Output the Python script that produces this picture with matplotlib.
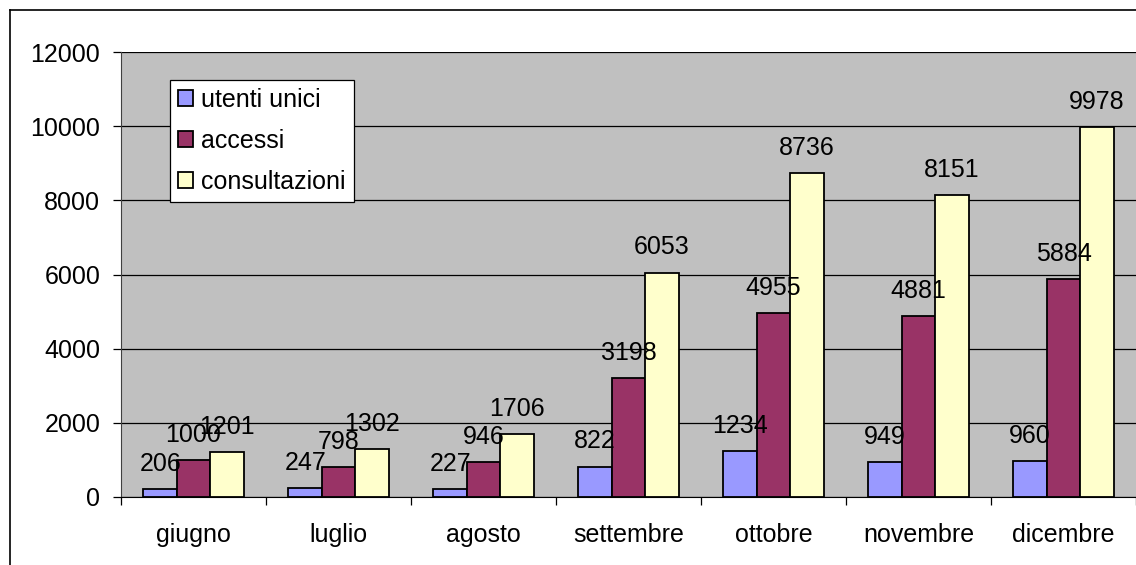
import matplotlib.pyplot as plt
import numpy as np
from matplotlib.lines import Line2D

plt.rcParams['font.family'] = ['Liberation Sans', 'DejaVu Sans']

mesi = ['giugno', 'luglio', 'agosto', 'settembre', 'ottobre', 'novembre', 'dicembre']
utenti_unici = [206, 247, 227, 822, 1234, 949, 960]
accessi = [1000, 798, 946, 3198, 4955, 4881, 5884]
consultazioni = [1201, 1302, 1706, 6053, 8736, 8151, 9978]

serie = [('utenti unici', utenti_unici, '#9999FF'),
         ('accessi', accessi, '#993366'),
         ('consultazioni', consultazioni, '#FFFFCC')]

fs = 18

fig = plt.figure(figsize=(11.36, 5.65), dpi=100)
ax = fig.add_axes([121 / 1136, 68 / 565, 1 - 121 / 1136, 445 / 565])
ax.set_facecolor('#C0C0C0')

x = np.arange(len(mesi))
w = 0.23
for i, (nome, vals, col) in enumerate(serie):
    pos = x + (i - 1) * w
    ax.bar(pos, vals, w, color=col, edgecolor='black', linewidth=1.3,
           label=nome, zorder=3)
    for p, v in zip(pos, vals):
        ax.annotate(str(v), (p, v), xytext=(0, 13), textcoords='offset points',
                    ha='center', va='baseline', fontsize=fs, zorder=4)

ax.set_xlim(-0.5, len(mesi) - 0.5)
ax.set_ylim(0, 12000)
ax.set_yticks(range(0, 12001, 2000))
ax.yaxis.grid(True, color='black', linewidth=0.9, zorder=0)
ax.set_axisbelow(True)

ax.set_xticks(x)
ax.set_xticklabels(mesi)
ax.set_xticks(np.arange(-0.5, len(mesi)), minor=True)
ax.tick_params(axis='x', which='major', length=0, pad=19, labelsize=fs)
ax.tick_params(axis='x', which='minor', length=6, width=0.9, direction='out')
ax.tick_params(axis='y', length=6, width=0.9, pad=9, labelsize=fs)

for s in ['top', 'right']:
    ax.spines[s].set_visible(False)
ax.spines['left'].set_color('#404040')
ax.spines['bottom'].set_color('black')

leg = ax.legend(loc='upper left', bbox_to_anchor=(0.048, 0.937), borderaxespad=0,
                fontsize=fs, frameon=True, fancybox=False, shadow=False,
                handlelength=0.6, handleheight=0.6, handletextpad=0.35,
                labelspacing=0.68, borderpad=0.32)
leg.get_frame().set_edgecolor('black')
leg.get_frame().set_linewidth(0.9)
leg.get_frame().set_alpha(1)

# cornice esterna del grafico
fig.add_artist(Line2D([10 / 1136, 10 / 1136], [0, 1 - 10 / 565], color='black', linewidth=1.2))
fig.add_artist(Line2D([10 / 1136, 1], [1 - 10 / 565, 1 - 10 / 565], color='black', linewidth=1.2))

fig.savefig('out.png', dpi=100)
